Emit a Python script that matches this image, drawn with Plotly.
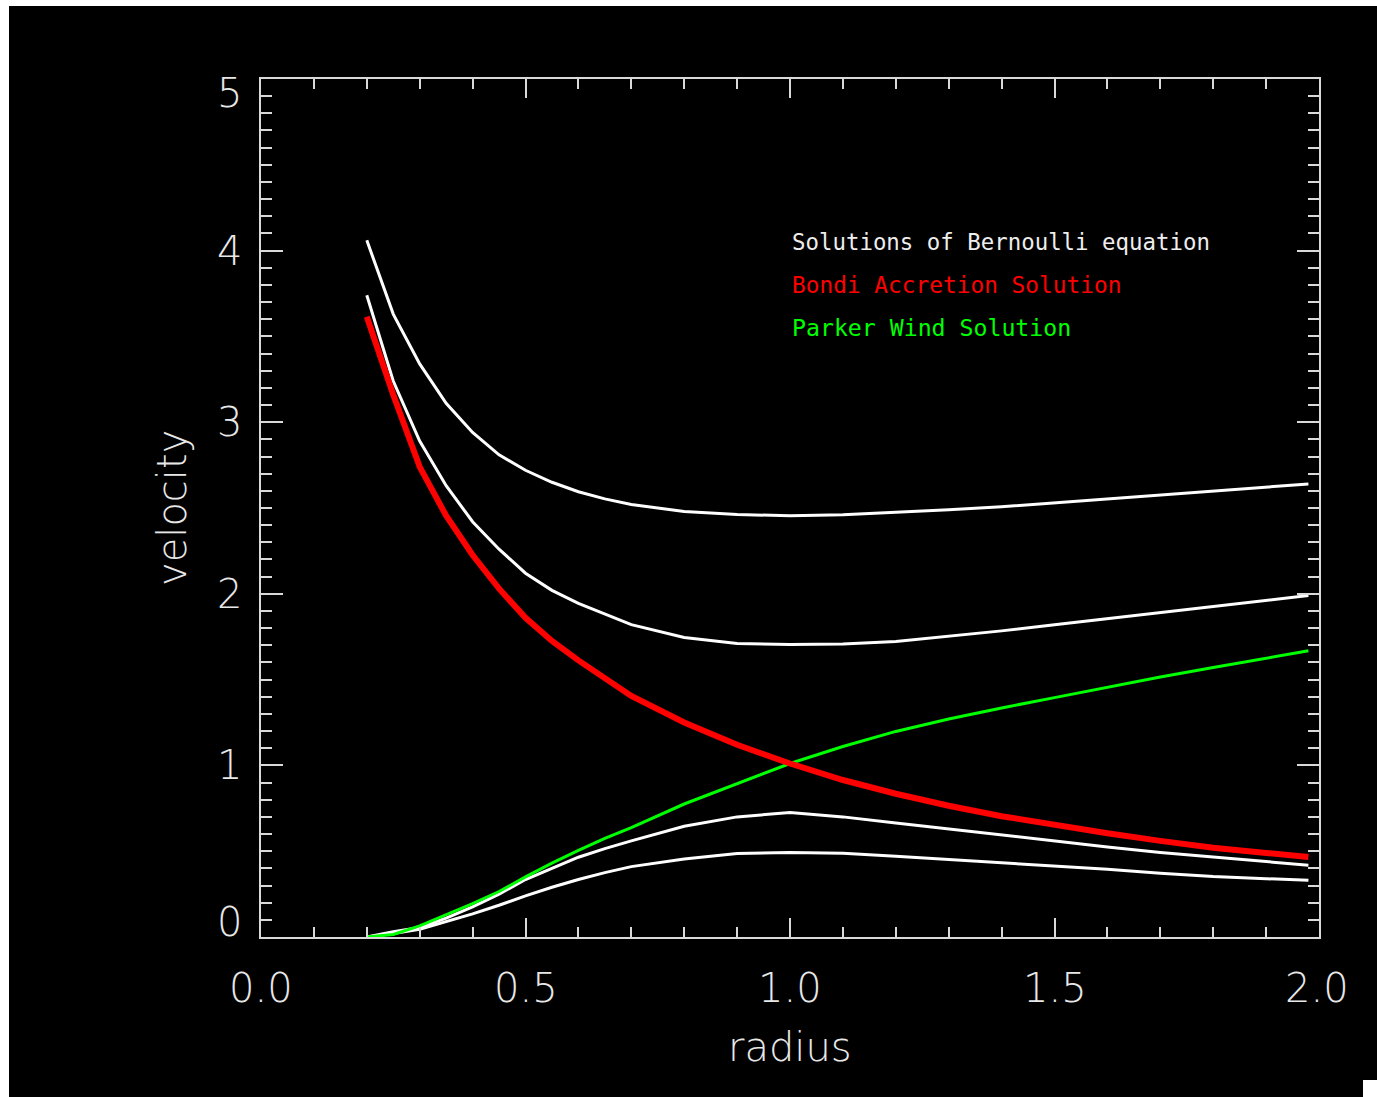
import plotly.graph_objects as go

# ---- data ----
radius = [0.2, 0.25, 0.3, 0.35, 0.4, 0.45, 0.5, 0.55, 0.6, 0.65, 0.7, 0.8, 0.9,
          1.0, 1.1, 1.2, 1.3, 1.4, 1.5, 1.6, 1.7, 1.8, 1.9, 1.98]

white_1 = [4.06, 3.63, 3.34, 3.11, 2.94, 2.81, 2.72, 2.65, 2.595, 2.553, 2.52, 2.48, 2.462,
           2.455, 2.46, 2.473, 2.49, 2.507, 2.53, 2.553, 2.577, 2.60, 2.62, 2.64]
white_2 = [3.74, 3.24, 2.89, 2.63, 2.42, 2.26, 2.12, 2.02, 1.944, 1.88, 1.82, 1.745, 1.71,
           1.705, 1.707, 1.722, 1.752, 1.784, 1.82, 1.855, 1.89, 1.925, 1.96, 1.99]
white_3 = [0.0, 0.03, 0.055, 0.11, 0.175, 0.25, 0.335, 0.40, 0.465, 0.515, 0.56, 0.645, 0.70,
           0.725, 0.70, 0.665, 0.63, 0.593, 0.56, 0.525, 0.493, 0.465, 0.44, 0.418]
white_4 = [0.0, 0.02, 0.045, 0.09, 0.135, 0.185, 0.24, 0.29, 0.335, 0.375, 0.41, 0.455, 0.487,
           0.492, 0.488, 0.47, 0.452, 0.435, 0.415, 0.395, 0.372, 0.352, 0.34, 0.33]
bondi = [3.615, 3.16, 2.74, 2.455, 2.226, 2.03, 1.86, 1.725, 1.612, 1.508, 1.405, 1.25, 1.12,
         1.011, 0.915, 0.835, 0.765, 0.704, 0.652, 0.605, 0.56, 0.52, 0.49, 0.466]
parker = [0.0, 0.015, 0.065, 0.13, 0.195, 0.265, 0.35, 0.43, 0.505, 0.575, 0.637, 0.775, 0.895,
          1.011, 1.11, 1.198, 1.27, 1.335, 1.395, 1.455, 1.515, 1.57, 1.625, 1.668]

x_ticks = [0.0, 0.5, 1.0, 1.5, 2.0]
x_tick_text = ["0.0", "0.5", "1.0", "1.5", "2.0"]
y_ticks = [0, 1, 2, 3, 4, 5]
y_tick_text = ["0", "1", "2", "3", "4", "5"]

legend_lines = ["Solutions of Bernoulli equation", "Bondi Accretion Solution", "Parker Wind Solution"]
legend_colors = ["#eeeeee", "#ff0000", "#00ff00"]
legend_sizes = [22.4, 22.8, 23.2]
legend_y = [4.05, 3.80, 3.55]

# ---- figure ----
fig = go.Figure()
for ys in (white_1, white_2, white_3, white_4):
    fig.add_trace(go.Scatter(x=radius, y=ys, mode="lines",
                             line=dict(color="#ffffff", width=3), hoverinfo="skip"))
fig.add_trace(go.Scatter(x=radius, y=parker, mode="lines",
                         line=dict(color="#00ff00", width=3), hoverinfo="skip"))
fig.add_trace(go.Scatter(x=radius, y=bondi, mode="lines",
                         line=dict(color="#ff0000", width=6), hoverinfo="skip"))

axis_color = "#d9d9d9"
label_font = dict(family="DejaVu Sans", size=40, color="#e8e8e8", weight=200)

fig.update_xaxes(range=[0, 2], showgrid=False, zeroline=False, showline=True,
                 linecolor=axis_color, linewidth=2, mirror="allticks",
                 ticks="inside", tickvals=x_ticks, ticklen=19, tickwidth=2, tickcolor=axis_color,
                 minor=dict(dtick=0.1, ticks="inside", ticklen=10, tickwidth=2, tickcolor=axis_color),
                 showticklabels=False)
fig.update_yaxes(range=[0, 5], showgrid=False, zeroline=False, showline=True,
                 linecolor=axis_color, linewidth=2, mirror="allticks",
                 ticks="inside", tickvals=y_ticks, ticklen=22, tickwidth=2, tickcolor=axis_color,
                 minor=dict(dtick=0.1, ticks="inside", ticklen=11, tickwidth=2, tickcolor=axis_color),
                 showticklabels=False)

annotations = []
for v, t in zip(x_ticks, x_tick_text):
    annotations.append(dict(x=v, y=0, xref="x", yref="y", text=t, showarrow=False,
                            xanchor="center", yanchor="middle", yshift=-51,
                            xshift=(-2 if v == 2.0 else 0), font=label_font))
for v, t in zip(y_ticks, y_tick_text):
    shift = 15 if v == 0 else (-14 if v == 5 else 0)
    annotations.append(dict(x=0, y=v, xref="x", yref="y", text=t, showarrow=False,
                            xanchor="right", yanchor="middle", xshift=-17, yshift=shift,
                            font=label_font))
annotations.append(dict(x=1.0, y=0, xref="x", yref="y", text="radius", showarrow=False,
                        xanchor="center", yanchor="middle", yshift=-110, font=label_font))
annotations.append(dict(x=0, y=2.5, xref="x", yref="y", text="velocity", showarrow=False,
                        textangle=-90, xanchor="center", yanchor="middle", xshift=-89,
                        font=label_font))
for t, c, s, yy in zip(legend_lines, legend_colors, legend_sizes, legend_y):
    annotations.append(dict(x=1.0, y=yy, xref="x", yref="y", text=t, showarrow=False,
                            xanchor="left", yanchor="middle",
                            font=dict(family="DejaVu Sans Mono", size=s, color=c)))

fig.update_layout(
    width=1377, height=1097,
    margin=dict(l=261, r=58, t=79, b=160),
    paper_bgcolor="#000000", plot_bgcolor="#000000",
    showlegend=False,
    annotations=annotations,
    shapes=[
        dict(type="rect", xref="paper", yref="paper", layer="above",
             x0=-261 / 1058, x1=(1377 - 261) / 1058, y0=1 + 73 / 858, y1=1 + 79 / 858,
             fillcolor="#ffffff", line=dict(width=0)),
        dict(type="rect", xref="paper", yref="paper", layer="above",
             x0=-261 / 1058, x1=-252 / 1058, y0=-160 / 858, y1=1 + 79 / 858,
             fillcolor="#ffffff", line=dict(width=0)),
        dict(type="rect", xref="paper", yref="paper", layer="above",
             x0=(1363 - 261) / 1058, x1=(1377 - 261) / 1058, y0=-160 / 858, y1=-143 / 858,
             fillcolor="#ffffff", line=dict(width=0)),
    ],
)

fig.write_html("out.html")
